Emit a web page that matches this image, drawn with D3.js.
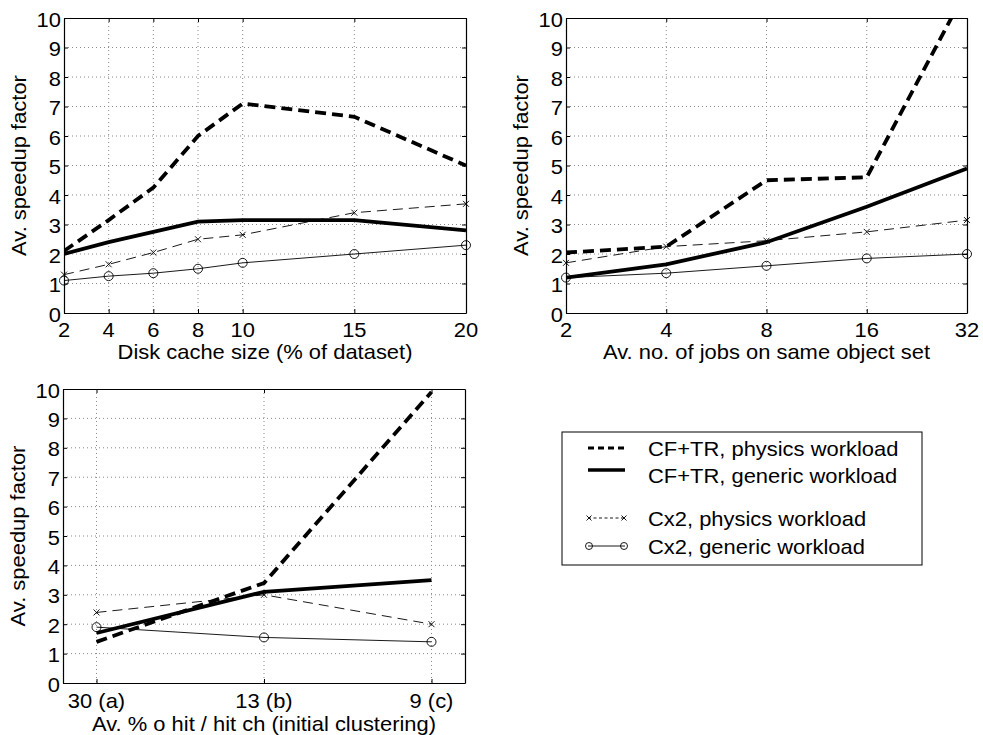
<!DOCTYPE html>
<html>
<head>
<meta charset="utf-8">
<script src="https://cdn.jsdelivr.net/npm/d3@7"></script>
<style>
  html, body { margin: 0; padding: 0; background: #fff; }
  svg { display: block; }
</style>
</head>
<body>
<svg id="chart" width="983" height="735"></svg>
<script>
// ---- Data -------------------------------------------------------------
// Panel A: speedup vs. disk cache size
const cacheSizes     = [2, 4, 6, 8, 10, 15, 20];
const cacheCfPhysics = [2.1, 3.15, 4.25, 6.0, 7.1, 6.65, 5.0];
const cacheCfGeneric = [2.0, 2.4, 2.75, 3.1, 3.15, 3.15, 2.8];
const cacheCxPhysics = [1.3, 1.65, 2.05, 2.5, 2.65, 3.4, 3.7];
const cacheCxGeneric = [1.1, 1.25, 1.35, 1.5, 1.7, 2.0, 2.3];

// Panel B: speedup vs. number of jobs on the same object set
const jobCounts      = [2, 4, 8, 16, 32];
const jobsCfPhysics  = [2.05, 2.25, 4.5, 4.6, 11.0];
const jobsCfGeneric  = [1.2, 1.65, 2.4, 3.6, 4.9];
const jobsCxPhysics  = [1.7, 2.25, 2.45, 2.75, 3.15];
const jobsCxGeneric  = [1.2, 1.35, 1.6, 1.85, 2.0];

// Panel C: speedup vs. initial clustering quality
const clusterLabels    = ["30 (a)", "13 (b)", "9 (c)"];
const clusterCfPhysics = [1.4, 3.4, 9.9];
const clusterCfGeneric = [1.7, 3.1, 3.5];
const clusterCxPhysics = [2.4, 3.0, 2.0];
const clusterCxGeneric = [1.9, 1.55, 1.4];

const yTicks = [0, 1, 2, 3, 4, 5, 6, 7, 8, 9, 10];
const yLabel = "Av. speedup factor";

const seriesNames = [
  "CF+TR, physics workload",
  "CF+TR, generic workload",
  "Cx2, physics workload",
  "Cx2, generic workload"
];

// ---- Styling ------------------------------------------------------------
const FONT = "'Liberation Sans', Arial, Helvetica, sans-serif";
const FS = 20.5;       // font size
const STRETCH = 1.07;  // widening of glyphs along the text direction

const styles = [
  { width: 3.8, dash: "11,6", marker: null },
  { width: 3.8, dash: null,   marker: null },
  { width: 0.9, dash: "10,6", marker: "x" },
  { width: 0.9, dash: null,   marker: "o" }
];

const svg = d3.select("#chart");

function addText(parent, x, y, str, anchor, rotate) {
  return parent.append("text")
    .attr("transform", `translate(${x},${y}) rotate(${rotate || 0}) scale(${STRETCH},1)`)
    .attr("text-anchor", anchor)
    .attr("font-family", FONT)
    .attr("font-size", FS)
    .attr("fill", "#000")
    .text(str);
}

function drawMarker(g, kind, cx, cy, size) {
  if (kind === "x") {
    g.append("path")
      .attr("d", `M${cx - size},${cy - size}L${cx + size},${cy + size}M${cx - size},${cy + size}L${cx + size},${cy - size}`)
      .attr("stroke", "#000").attr("stroke-width", 0.9).attr("fill", "none");
  } else if (kind === "o") {
    g.append("circle")
      .attr("cx", cx).attr("cy", cy).attr("r", size)
      .attr("stroke", "#000").attr("stroke-width", 0.9).attr("fill", "none");
  }
}

let clipId = 0;

function drawPanel(cfg) {
  const { box, x, xTickVals, xTickFmt, xs, series, xLabel, tickGap, labelGap } = cfg;
  const y = d3.scaleLinear().domain([0, 10]).range([box.bottom, box.top]);
  x.range([box.left, box.right]);

  const g = svg.append("g");
  const id = "clip" + (clipId++);
  g.append("clipPath").attr("id", id)
    .append("rect")
    .attr("x", box.left).attr("y", box.top)
    .attr("width", box.right - box.left).attr("height", box.bottom - box.top);

  // dotted grid
  const grid = g.append("g").attr("stroke", "#8a8a8a").attr("stroke-width", 1)
    .attr("stroke-dasharray", "1,3");
  yTicks.forEach(t => {
    if (t === 0 || t === 10) return;
    grid.append("line").attr("x1", box.left).attr("x2", box.right)
      .attr("y1", y(t)).attr("y2", y(t));
  });
  xTickVals.forEach(t => {
    const px = x(t);
    if (Math.abs(px - box.left) < 1 || Math.abs(px - box.right) < 1) return;
    grid.append("line").attr("x1", px).attr("x2", px)
      .attr("y1", box.top).attr("y2", box.bottom);
  });

  // axes via d3 axis generators (inward ticks)
  const axL = d3.axisLeft(y).tickValues(yTicks).tickSizeInner(-4).tickSizeOuter(0).tickFormat("");
  const axR = d3.axisRight(y).tickValues(yTicks).tickSizeInner(-4).tickSizeOuter(0).tickFormat("");
  const axB = d3.axisBottom(x).tickValues(xTickVals).tickSizeInner(-4).tickSizeOuter(0).tickFormat("");
  const axT = d3.axisTop(x).tickValues(xTickVals).tickSizeInner(-4).tickSizeOuter(0).tickFormat("");
  [[axL, `translate(${box.left},0)`], [axR, `translate(${box.right},0)`],
   [axB, `translate(0,${box.bottom})`], [axT, `translate(0,${box.top})`]].forEach(([ax, tr]) => {
    const a = g.append("g").attr("transform", tr).call(ax);
    a.selectAll("path").attr("stroke", "#000").attr("stroke-width", 1.2);
    a.selectAll("line").attr("stroke", "#000").attr("stroke-width", 1);
  });

  // tick labels
  yTicks.forEach(t => addText(g, box.left - 3, y(t) + 8.5, String(t), "end"));
  xTickVals.forEach((t, i) => addText(g, x(t), box.bottom + tickGap, xTickFmt(t, i), "middle"));

  // axis titles
  addText(g, (box.left + box.right) / 2, box.bottom + labelGap, xLabel, "middle");
  addText(g, box.left - 38, (box.top + box.bottom) / 2, yLabel, "middle", -90);

  // series lines
  const lineGen = d3.line().x((d, i) => x(xs[i])).y(d => y(d));
  const lines = g.append("g").attr("clip-path", `url(#${id})`);
  series.forEach((vals, k) => {
    const st = styles[k];
    lines.append("path")
      .datum(vals)
      .attr("d", lineGen)
      .attr("fill", "none")
      .attr("stroke", "#000")
      .attr("stroke-width", st.width)
      .attr("stroke-dasharray", st.dash)
      .attr("stroke-linejoin", "miter");
  });
  // markers
  series.forEach((vals, k) => {
    const st = styles[k];
    if (!st.marker) return;
    vals.forEach((v, i) => {
      if (v > 10) return;
      drawMarker(g, st.marker, x(xs[i]), y(v), st.marker === "o" ? 4.5 : 3);
    });
  });
}

// Panel A
drawPanel({
  box: { left: 64, right: 466, top: 18, bottom: 313 },
  x: d3.scaleLinear().domain([2, 20]),
  xTickVals: cacheSizes,
  xTickFmt: t => String(t),
  xs: cacheSizes,
  series: [cacheCfPhysics, cacheCfGeneric, cacheCxPhysics, cacheCxGeneric],
  xLabel: "Disk cache size (% of dataset)",
  tickGap: 24, labelGap: 46
});

// Panel B
drawPanel({
  box: { left: 566, right: 967, top: 18, bottom: 313 },
  x: d3.scaleLog().base(2).domain([2, 32]),
  xTickVals: jobCounts,
  xTickFmt: t => String(t),
  xs: jobCounts,
  series: [jobsCfPhysics, jobsCfGeneric, jobsCxPhysics, jobsCxGeneric],
  xLabel: "Av. no. of jobs on same object set",
  tickGap: 24, labelGap: 46
});

// Panel C
const clusterIdx = clusterLabels.map((d, i) => i);
drawPanel({
  box: { left: 63, right: 465, top: 389, bottom: 683 },
  x: d3.scaleLinear().domain([-0.2, 2.2]),
  xTickVals: clusterIdx,
  xTickFmt: (t, i) => clusterLabels[i],
  xs: clusterIdx,
  series: [clusterCfPhysics, clusterCfGeneric, clusterCxPhysics, clusterCxGeneric],
  xLabel: "Av. % o hit / hit ch (initial clustering)",
  tickGap: 25, labelGap: 48
});

// ---- Legend ---------------------------------------------------------------
const leg = svg.append("g");
leg.append("rect")
  .attr("x", 562).attr("y", 432).attr("width", 360).attr("height", 133)
  .attr("fill", "#fff").attr("stroke", "#000").attr("stroke-width", 1);

const legendRows = [
  { sampleY: 448, textY: 456 },
  { sampleY: 470, textY: 483 },
  { sampleY: 518, textY: 526 },
  { sampleY: 546, textY: 554 }
];
legendRows.forEach((row, k) => {
  const st = styles[k];
  const x1 = 588, x2 = 625;
  let dash = null, w = st.width;
  if (k === 0) { dash = "6,4"; w = 3; }
  if (k === 1) { w = 3.5; }
  if (k === 2) { dash = "3,2.5"; }
  leg.append("line")
    .attr("x1", x1).attr("x2", x2).attr("y1", row.sampleY).attr("y2", row.sampleY)
    .attr("stroke", "#000").attr("stroke-width", w).attr("stroke-dasharray", dash);
  if (st.marker) {
    drawMarker(leg, st.marker, x1 + 1, row.sampleY, st.marker === "o" ? 3.5 : 2.5);
    drawMarker(leg, st.marker, x2 - 1, row.sampleY, st.marker === "o" ? 3.5 : 2.5);
  }
  addText(leg, 648, row.textY, seriesNames[k], "start");
});
</script>
</body>
</html>
